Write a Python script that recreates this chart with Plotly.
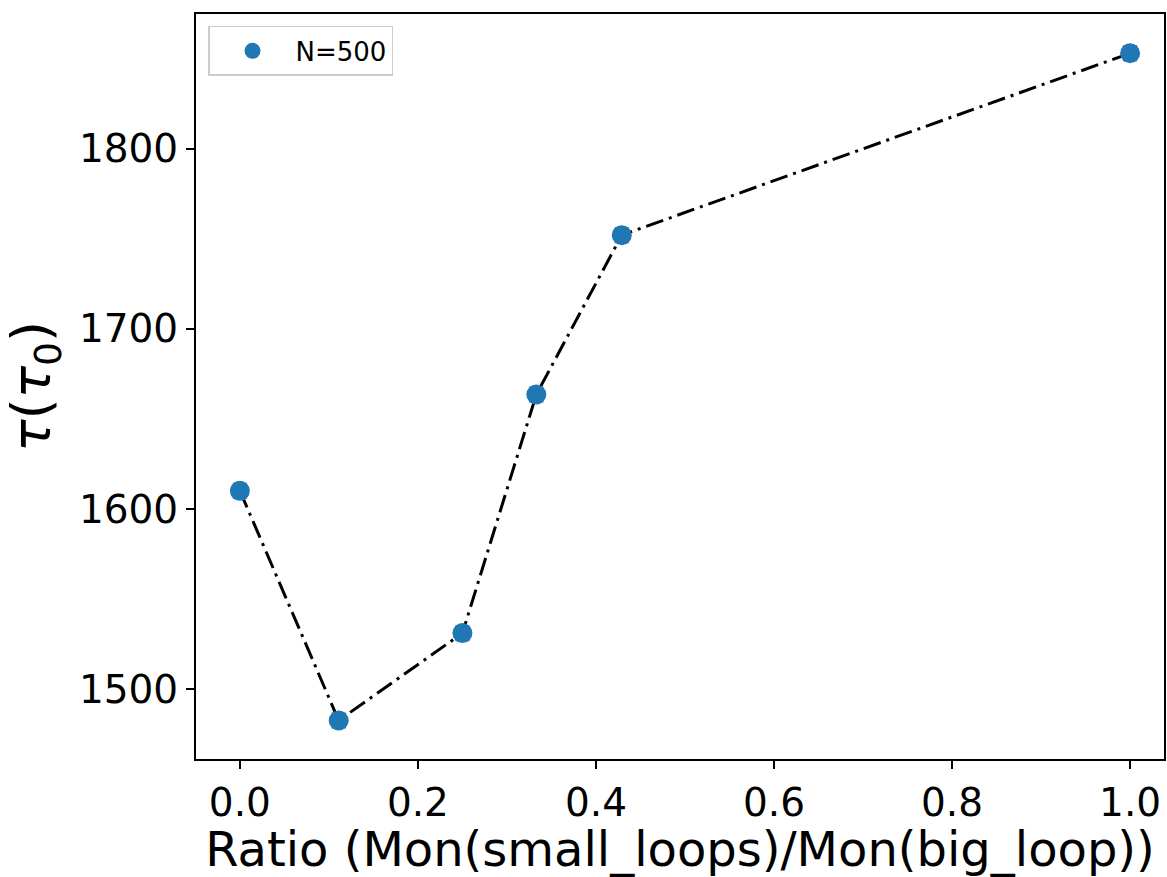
import plotly.graph_objects as go

# Data
ratio = [0.0, 0.111, 0.25, 0.333, 0.429, 1.0]
tau = [1610, 1482.5, 1531, 1663.5, 1752, 1853]
tau_err = [4.0, 4.0, 4.0, 4.0, 4.0, 4.0]
series_name = "N=500"

x_ticks = [0.0, 0.2, 0.4, 0.6, 0.8, 1.0]
x_ticklabels = ["0.0", "0.2", "0.4", "0.6", "0.8", "1.0"]
y_ticks = [1500, 1600, 1700, 1800]
y_ticklabels = ["1500", "1600", "1700", "1800"]

FONT = "DejaVu Sans"

fig = go.Figure()

# dash-dot connecting line
fig.add_trace(go.Scatter(
    x=ratio, y=tau, mode="lines",
    line=dict(color="black", width=3, dash="18px,6px,3px,6px"),
    showlegend=False, hoverinfo="skip",
))

# markers with error bars
fig.add_trace(go.Scatter(
    x=ratio, y=tau, mode="markers", name=series_name,
    marker=dict(color="#1f77b4", size=20),
    error_y=dict(type="data", array=tau_err, visible=True,
                 color="gray", thickness=2, width=7),
))

fig.update_layout(
    width=1167, height=877,
    margin=dict(l=196, r=1, t=14, b=116),
    paper_bgcolor="white", plot_bgcolor="white",
    font=dict(family=FONT, color="black"),
    showlegend=True,
    legend=dict(
        x=0.0124, y=0.984, xanchor="left", yanchor="top",
        bordercolor="#cccccc", borderwidth=1.5,
        bgcolor="rgba(255,255,255,0.8)",
        font=dict(family=FONT, size=26, color="black"),
        itemwidth=76, entrywidth=140, entrywidthmode="pixels",
    ),
)

fig.update_xaxes(
    range=[-0.0493, 1.0381],
    tickvals=x_ticks, ticktext=x_ticklabels,
    tickfont=dict(family=FONT, size=39, color="black"),
    ticks="outside", ticklen=8, tickwidth=2, tickcolor="black",
    showline=True, linecolor="black", linewidth=2, mirror=True,
    showgrid=False, zeroline=False,
    title=dict(text="Ratio (Mon(small_loops)/Mon(big_loop))",
               font=dict(family=FONT, size=48, color="black"), standoff=18),
)

fig.update_yaxes(
    range=[1461.1, 1874.8],
    tickvals=y_ticks, ticktext=y_ticklabels,
    tickfont=dict(family=FONT, size=39, color="black"),
    ticks="outside", ticklen=8, tickwidth=2, tickcolor="black",
    showline=True, linecolor="black", linewidth=2, mirror=True,
    showgrid=False, zeroline=False,
    title=dict(text="<i>τ</i>(<i>τ</i><sub>0</sub>)",
               font=dict(family=FONT, size=54, color="black"), standoff=14),
)

fig.write_html("out.html", config={"displayModeBar": False},
               post_script="document.body.style.margin='0';")
